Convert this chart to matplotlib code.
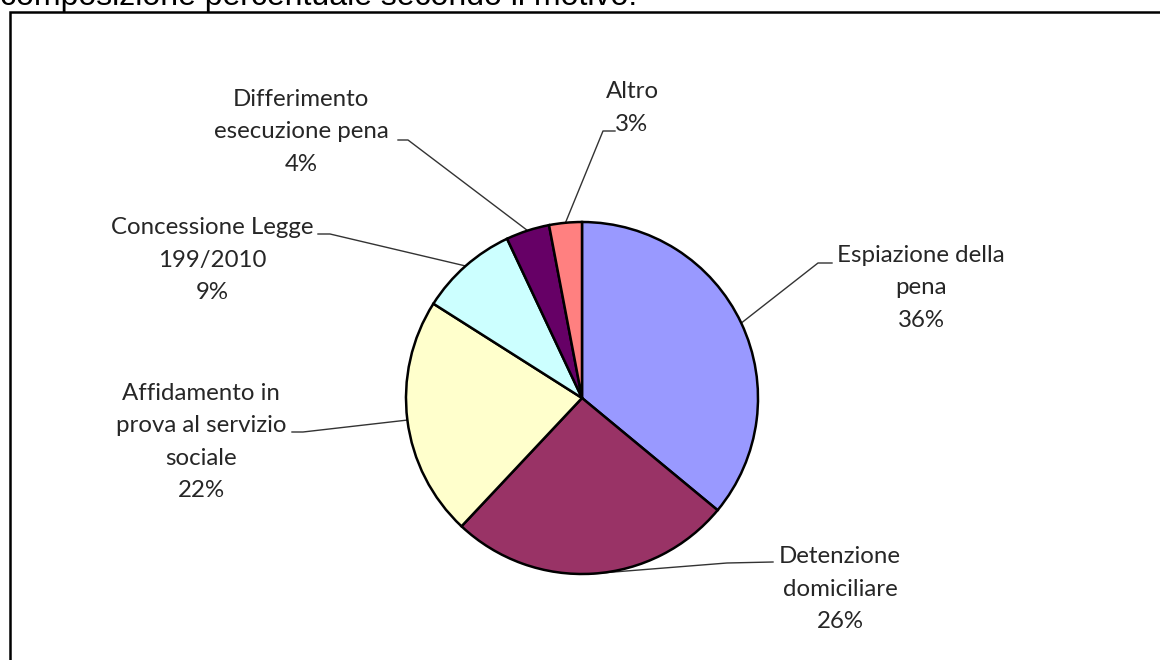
import numpy as np
import matplotlib
matplotlib.use('Agg')
from matplotlib import pyplot as plt
from matplotlib.patches import Rectangle

# data
labels = ['Espiazione della\npena', 'Detenzione\ndomiciliare', 'Affidamento in\nprova al servizio\nsociale',
          'Concessione Legge\n199/2010', 'Differimento\nesecuzione pena', 'Altro']
values = [36, 26, 22, 9, 4, 3]
colors = ['#9999FF', '#993366', '#FFFFCC', '#CCFFFF', '#660066', '#FF8080']

W, H = 1160, 660
cx, cy, r = 582, 398, 176

# label layout (pixel coords, y from top): text centre, line end at label, elbow
text_pos = [(921, 288), (840, 589), (201, 442), (212, 260), (301, 132), (632, 108)]
line_end = [(832, 263), (773, 562), (292, 432), (318, 234), (398, 140), (615, 131)]
line_elbow = [(818, 263), (727, 563), (303, 432), (330, 234), (408, 140), (603, 131)]


def Y(y):
    return H - y


fig = plt.figure(figsize=(W / 100, H / 100), dpi=100)
ax = fig.add_axes([0, 0, 1, 1])
ax.pie(values, colors=colors, startangle=90, counterclock=False, center=(cx, Y(cy)), radius=r,
       wedgeprops=dict(edgecolor='black', linewidth=1.8))
ax.set_xlim(0, W)
ax.set_ylim(0, H)
ax.axis('off')

# leader lines + labels
total = sum(values)
cum = 0
for i, v in enumerate(values):
    mid = 90 - (cum + v / 2) / total * 360
    cum += v
    px = cx + r * np.cos(np.radians(mid))
    py = cy - r * np.sin(np.radians(mid))
    ex, ey = line_end[i]
    bx, by = line_elbow[i]
    ax.plot([ex, bx, px], [Y(ey), Y(by), Y(py)], color='#333333', lw=1.0, zorder=0.5)
    tx, ty = text_pos[i]
    ax.text(tx, Y(ty), '{}\n{}%'.format(labels[i], v), ha='center', va='center',
            fontsize=17.3, family='Lato', color='#262626', linespacing=1.67)

# chart border
fig.patches.append(Rectangle((9.5 / W, -0.1), 1.2, (H - 12) / H + 0.1, transform=fig.transFigure,
                             fill=False, edgecolor='black', lw=1.8))

fig.text(0, 1 - 5 / H, 'composizione percentuale secondo il motivo.', ha='left', va='baseline',
         fontsize=23, family='Liberation Sans', color='black')

fig.savefig('out.png', dpi=100, facecolor='white')
